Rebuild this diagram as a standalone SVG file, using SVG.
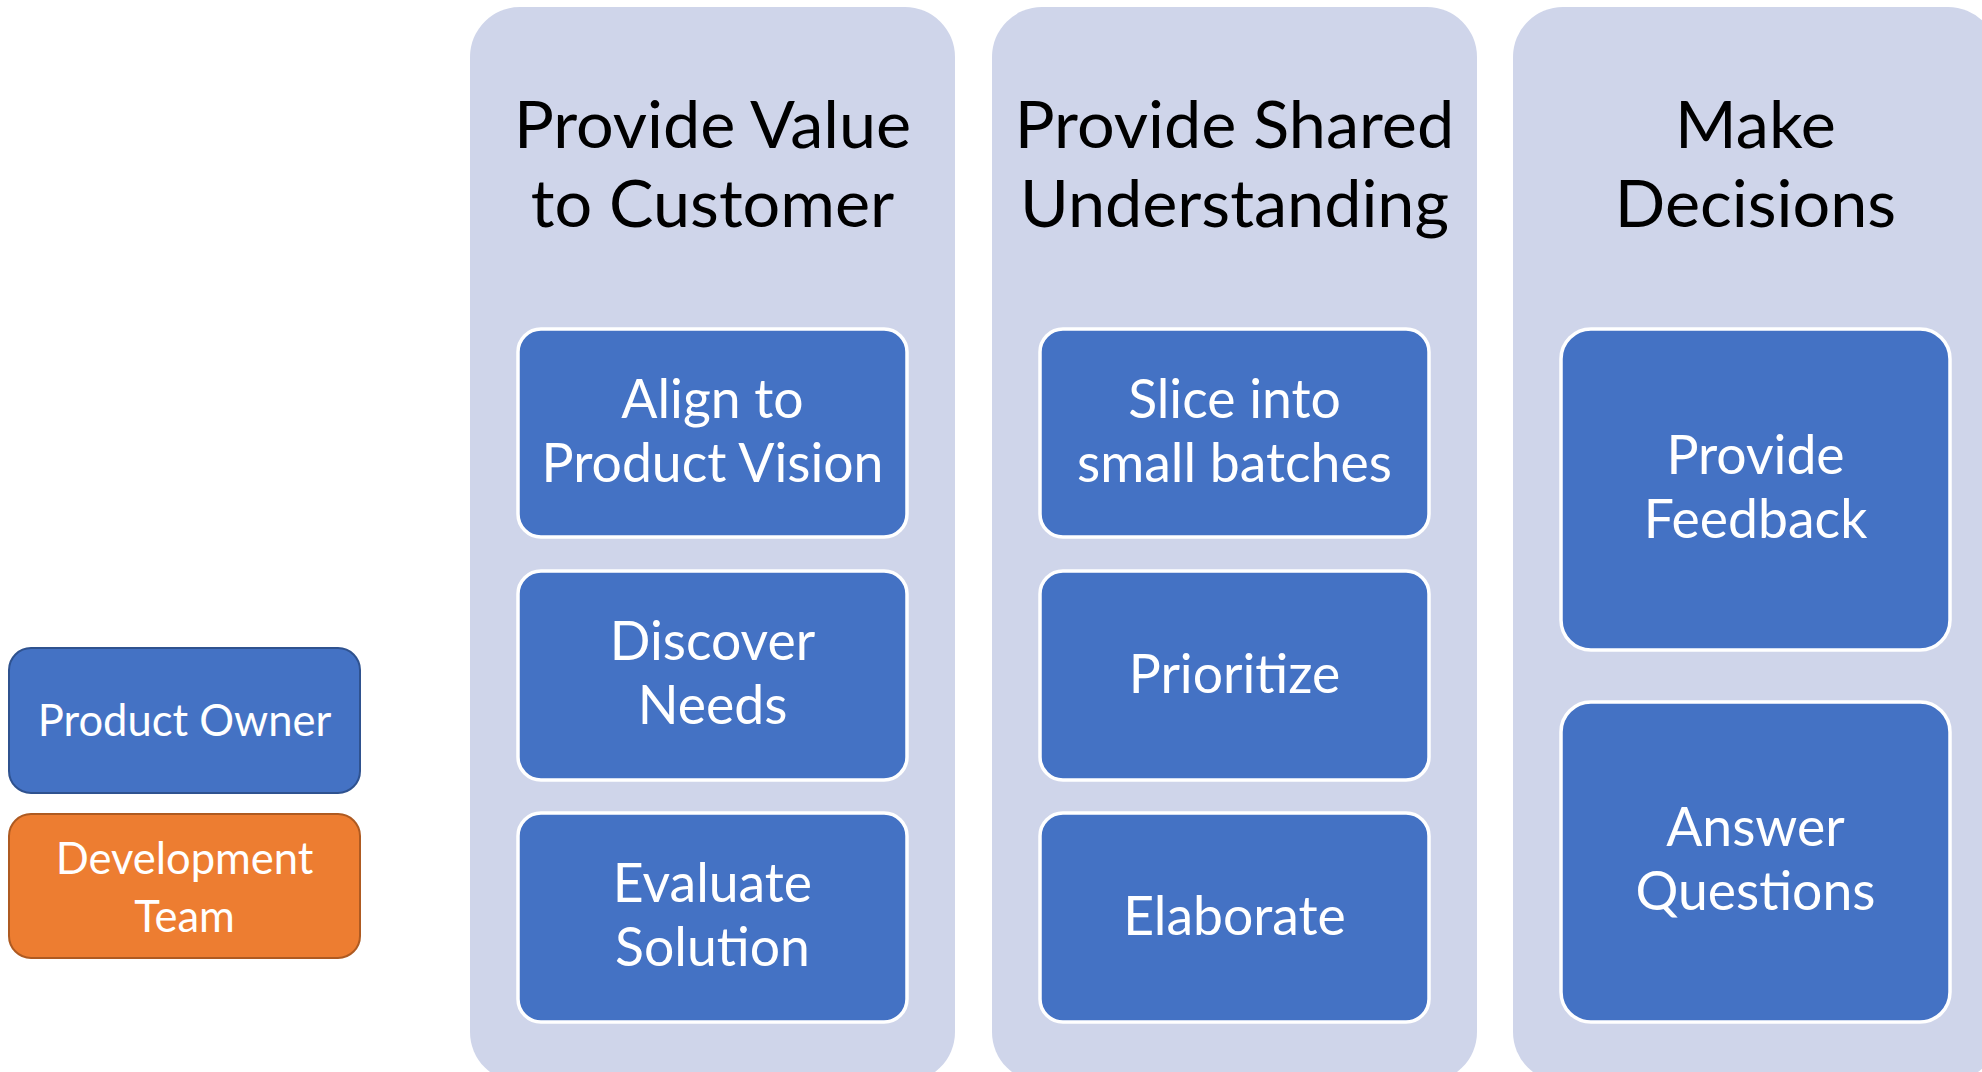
<svg xmlns="http://www.w3.org/2000/svg" width="1982" height="1072" viewBox="0 0 1982 1072">
<style>
.col{fill:#CFD5EA}
.hd{font-family:Lato,"Liberation Sans",sans-serif;font-size:66.5px;fill:#000;text-anchor:middle}
.box{fill:#4472C4;stroke:#FFFFFF;stroke-width:3.5}
.bt{font-family:Lato,"Liberation Sans",sans-serif;font-size:53.5px;fill:#FFFFFF;text-anchor:middle}
.lt{font-family:Lato,"Liberation Sans",sans-serif;font-size:43.5px;fill:#FFFFFF;text-anchor:middle}
</style>
<rect width="1982" height="1072" fill="#FFFFFF"/>
<g id="legend-product-owner">
<rect x="9" y="648" width="351" height="145" rx="22" fill="#4472C4" stroke="#2F528F" stroke-width="2"/>
<text class="lt" x="184.5" y="736">Product Owner</text>
</g>
<g id="legend-development-team">
<rect x="9" y="814" width="351" height="144" rx="22" fill="#ED7D31" stroke="#AE5A21" stroke-width="2"/>
<text class="lt" x="184.5" y="874">Development</text>
<text class="lt" x="184.5" y="932">Team</text>
</g>
<g id="col-value">
<rect class="col" x="470" y="7" width="485" height="1075" rx="50"/>
<text class="hd" x="712.5" y="148">Provide Value</text>
<text class="hd" x="712.5" y="227">to Customer</text>
</g>
<g id="col-shared">
<rect class="col" x="992" y="7" width="485" height="1075" rx="50"/>
<text class="hd" x="1234.5" y="148">Provide Shared</text>
<text class="hd" x="1234.5" y="227">Understanding</text>
</g>
<g id="col-decisions">
<rect class="col" x="1513" y="7" width="485" height="1075" rx="50"/>
<text class="hd" x="1755.5" y="148">Make</text>
<text class="hd" x="1755.5" y="227">Decisions</text>
</g>
<g id="align">
<rect class="box" x="518" y="329" width="389" height="208" rx="23"/>
<text class="bt" x="712.5" y="418">Align to</text>
<text class="bt" x="712.5" y="482">Product Vision</text>
</g>
<g id="discover">
<rect class="box" x="518" y="571" width="389" height="209" rx="23"/>
<text class="bt" x="712.5" y="660">Discover</text>
<text class="bt" x="712.5" y="724">Needs</text>
</g>
<g id="evaluate">
<rect class="box" x="518" y="813" width="389" height="209" rx="23"/>
<text class="bt" x="712.5" y="902">Evaluate</text>
<text class="bt" x="712.5" y="966">Solution</text>
</g>
<g id="slice">
<rect class="box" x="1040" y="329" width="389" height="208" rx="23"/>
<text class="bt" x="1234.5" y="418">Slice into</text>
<text class="bt" x="1234.5" y="482">small batches</text>
</g>
<g id="prioritize">
<rect class="box" x="1040" y="571" width="389" height="209" rx="23"/>
<text class="bt" x="1234.5" y="693">Prioritize</text>
</g>
<g id="elaborate">
<rect class="box" x="1040" y="813" width="389" height="209" rx="23"/>
<text class="bt" x="1234.5" y="935">Elaborate</text>
</g>
<g id="feedback">
<rect class="box" x="1561" y="329" width="389" height="321" rx="30"/>
<text class="bt" x="1755.5" y="474">Provide</text>
<text class="bt" x="1755.5" y="538">Feedback</text>
</g>
<g id="questions">
<rect class="box" x="1561" y="702" width="389" height="320" rx="30"/>
<text class="bt" x="1755.5" y="846">Answer</text>
<text class="bt" x="1755.5" y="910">Questions</text>
</g>
<g id="connectors"></g>
</svg>
